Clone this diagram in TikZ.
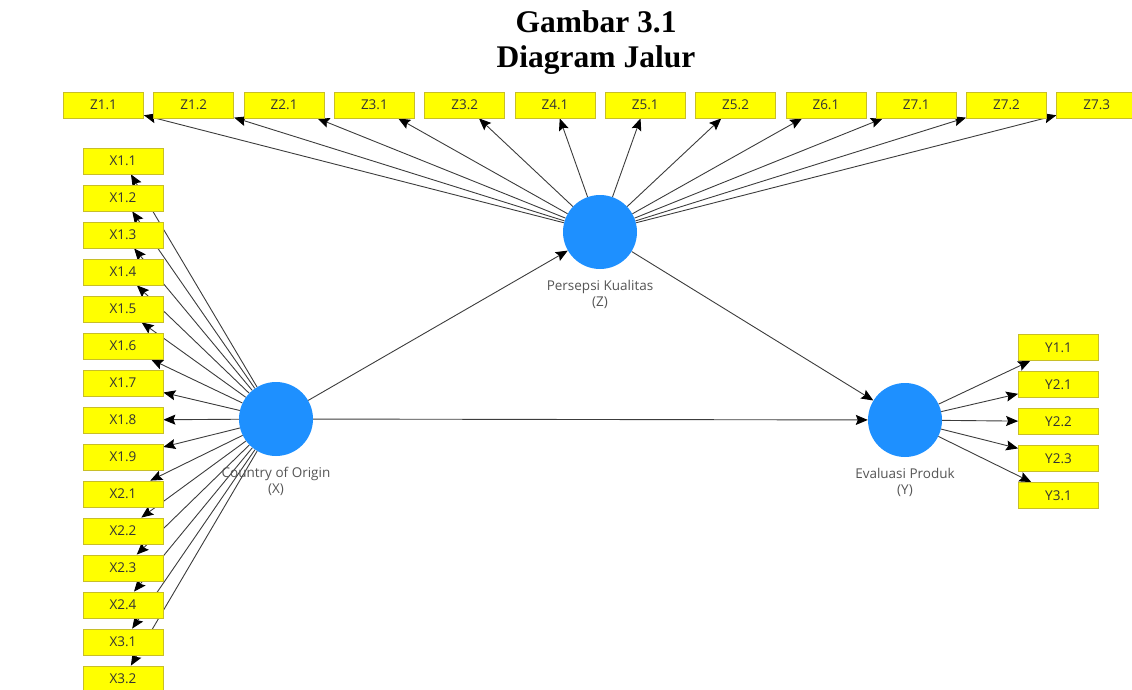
\documentclass[tikz,border=0pt]{standalone}
\usepackage{xcolor}
\usepackage{fontspec}
\usepackage{tikz}
\usetikzlibrary{positioning}
\usetikzlibrary{arrows.meta}

\newfontfamily\titlefont{Liberation Serif}
\newfontfamily\boxfont{Open Sans}

\definecolor{indyellow}{RGB}{255,255,0}
\definecolor{indborder}{RGB}{200,190,40}
\definecolor{latblue}{RGB}{30,144,255}
\definecolor{pathgray}{RGB}{60,60,60}
\definecolor{labgray}{RGB}{85,85,85}

\pgfdeclarelayer{bg}
\pgfsetlayers{bg,main}

\tikzset{
    ind/.style={rectangle,draw=indborder,fill=indyellow,line width=0.8pt,
        minimum width=80pt,minimum height=26pt,inner sep=0pt,
        font=\boxfont\fontsize{13.5}{15}\selectfont,text=black!80},
    lat/.style={circle,fill=latblue,minimum size=74pt,inner sep=0pt},
    latlabel/.style={align=center,inner sep=0pt,text=labgray,
        font=\boxfont\fontsize{13.5}{16}\selectfont},
    path/.style={draw=pathgray,line width=0.9pt,-{Stealth[length=12pt,width=10pt,inset=2pt,color=black]}}
}

\begin{document}
\begin{tikzpicture}[x=1pt,y=-1pt]
    \useasboundingbox (0,0) rectangle (1132,690);

    % title
    \node [anchor=base,inner sep=0pt,font=\titlefont\bfseries\fontsize{31.5}{36}\selectfont] (t1) at (596,33) {Gambar 3.1};
    \node [anchor=base,inner sep=0pt,font=\titlefont\bfseries\fontsize{31.5}{36}\selectfont] (t2) at (596,68) {Diagram Jalur};

    % latent variables
    \node [lat] (Z) at (600,232) {};
    \node [lat] (X) at (276,419) {};
    \node [lat] (Y) at (905,420) {};
    \node [latlabel,below=11pt of Z] (lZ) {Persepsi Kualitas\\(Z)};
    \node [latlabel,below=11pt of X] (lX) {Country of Origin\\(X)};
    \node [latlabel,below=11pt of Y] (lY) {Evaluasi Produk\\(Y)};

    % indicators Z
    \node [ind] (z11) at (103.5,105) {Z1.1};
    \node [ind] (z12) at (193.8,105) {Z1.2};
    \node [ind] (z21) at (284.1,105) {Z2.1};
    \node [ind] (z31) at (374.4,105) {Z3.1};
    \node [ind] (z32) at (464.7,105) {Z3.2};
    \node [ind] (z41) at (555.0,105) {Z4.1};
    \node [ind] (z51) at (645.3,105) {Z5.1};
    \node [ind] (z52) at (735.6,105) {Z5.2};
    \node [ind] (z61) at (825.9,105) {Z6.1};
    \node [ind] (z71) at (916.2,105) {Z7.1};
    \node [ind] (z72) at (1006.5,105) {Z7.2};
    \node [ind] (z73) at (1096.8,105) {Z7.3};

    % indicators X
    \node [ind] (x11) at (123,161) {X1.1};
    \node [ind] (x12) at (123,198) {X1.2};
    \node [ind] (x13) at (123,235) {X1.3};
    \node [ind] (x14) at (123,272) {X1.4};
    \node [ind] (x15) at (123,309) {X1.5};
    \node [ind] (x16) at (123,346) {X1.6};
    \node [ind] (x17) at (123,383) {X1.7};
    \node [ind] (x18) at (123,420) {X1.8};
    \node [ind] (x19) at (123,457) {X1.9};
    \node [ind] (x21) at (123,494) {X2.1};
    \node [ind] (x22) at (123,531) {X2.2};
    \node [ind] (x23) at (123,568) {X2.3};
    \node [ind] (x24) at (123,605) {X2.4};
    \node [ind] (x31) at (123,642) {X3.1};
    \node [ind] (x32) at (123,679) {X3.2};

    % indicators Y
    \node [ind] (y11) at (1058.5,347.5) {Y1.1};
    \node [ind] (y21) at (1058.5,384.5) {Y2.1};
    \node [ind] (y22) at (1058.5,421.5) {Y2.2};
    \node [ind] (y23) at (1058.5,458.5) {Y2.3};
    \node [ind] (y31) at (1058.5,495.5) {Y3.1};

    \begin{pgfonlayer}{bg}
    % inner model
    \draw [path] (X) -- (Z);
    \draw [path] (X) -- (Y);
    \draw [path] (Z) -- (Y);

    % outer model Z
    \draw [path] (Z) -- (z11);
    \draw [path] (Z) -- (z12);
    \draw [path] (Z) -- (z21);
    \draw [path] (Z) -- (z31);
    \draw [path] (Z) -- (z32);
    \draw [path] (Z) -- (z41);
    \draw [path] (Z) -- (z51);
    \draw [path] (Z) -- (z52);
    \draw [path] (Z) -- (z61);
    \draw [path] (Z) -- (z71);
    \draw [path] (Z) -- (z72);
    \draw [path] (Z) -- (z73);

    % outer model X
    \draw [path] (X) -- (x11);
    \draw [path] (X) -- (x12);
    \draw [path] (X) -- (x13);
    \draw [path] (X) -- (x14);
    \draw [path] (X) -- (x15);
    \draw [path] (X) -- (x16);
    \draw [path] (X) -- (x17);
    \draw [path] (X) -- (x18);
    \draw [path] (X) -- (x19);
    \draw [path] (X) -- (x21);
    \draw [path] (X) -- (x22);
    \draw [path] (X) -- (x23);
    \draw [path] (X) -- (x24);
    \draw [path] (X) -- (x31);
    \draw [path] (X) -- (x32);

    % outer model Y
    \draw [path] (Y) -- (y11);
    \draw [path] (Y) -- (y21);
    \draw [path] (Y) -- (y22);
    \draw [path] (Y) -- (y23);
    \draw [path] (Y) -- (y31);
    \end{pgfonlayer}
\end{tikzpicture}
\end{document}
